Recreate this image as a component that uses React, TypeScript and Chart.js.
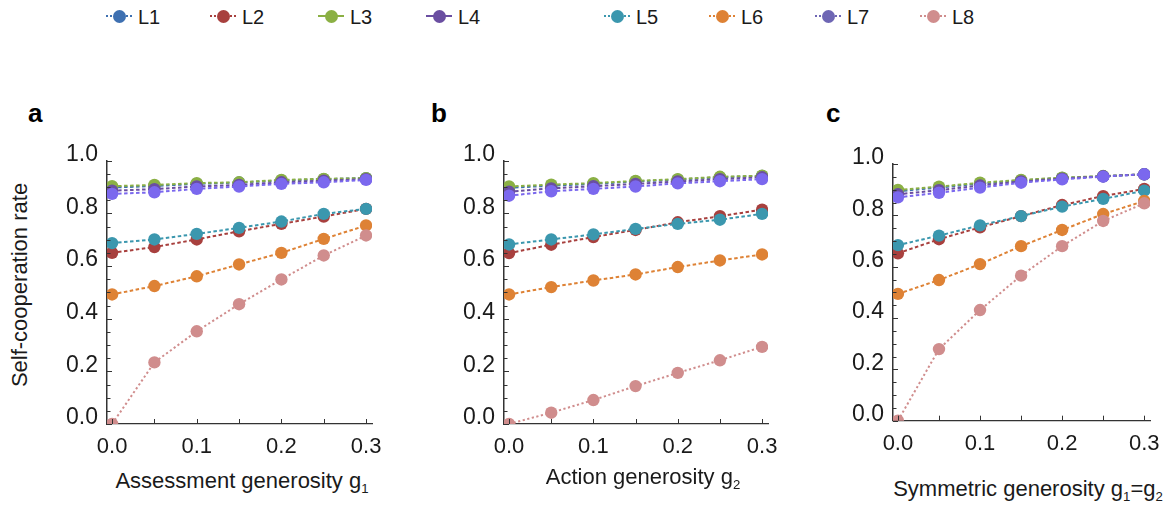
import React, { useEffect, useRef } from "react";
import { Chart, registerables } from "chart.js";

Chart.register(...registerables);

// ---------- data ----------
const seriesNames = ["L1", "L2", "L3", "L4", "L5", "L6", "L7", "L8"];
const gValues = [0, 0.05, 0.1, 0.15, 0.2, 0.25, 0.3];
const xTickValues = [0, 0.1, 0.2, 0.3];
const yTickValues = [0, 0.2, 0.4, 0.6, 0.8, 1.0];
const xMinorTickValues = [0, 0.05, 0.1, 0.15, 0.2, 0.25, 0.3];
const yMinorTickValues = [0, 0.05, 0.1, 0.15, 0.2, 0.25, 0.3, 0.35, 0.4, 0.45, 0.5, 0.55, 0.6, 0.65, 0.7, 0.75, 0.8, 0.85, 0.9, 0.95, 1.0];

// Panel a: assessment generosity g1
const aL1 = [0.898, 0.904, 0.912, 0.917, 0.925, 0.93, 0.934];
const aL2 = [0.65, 0.672, 0.701, 0.732, 0.76, 0.788, 0.817];
const aL3 = [0.903, 0.908, 0.915, 0.918, 0.927, 0.931, 0.934];
const aL4 = [0.886, 0.892, 0.902, 0.908, 0.918, 0.924, 0.93];
const aL5 = [0.687, 0.701, 0.722, 0.745, 0.769, 0.798, 0.817];
const aL6 = [0.492, 0.524, 0.561, 0.606, 0.65, 0.703, 0.754];
const aL7 = [0.874, 0.88, 0.893, 0.902, 0.912, 0.918, 0.927];
const aL8 = [0.0, 0.234, 0.352, 0.455, 0.549, 0.64, 0.716];

// Panel b: action generosity g2
const bL1 = [0.897, 0.905, 0.912, 0.921, 0.928, 0.937, 0.942];
const bL2 = [0.649, 0.681, 0.71, 0.737, 0.766, 0.789, 0.814];
const bL3 = [0.902, 0.909, 0.915, 0.923, 0.93, 0.939, 0.943];
const bL4 = [0.882, 0.895, 0.903, 0.912, 0.921, 0.93, 0.937];
const bL5 = [0.682, 0.701, 0.72, 0.741, 0.76, 0.776, 0.798];
const bL6 = [0.492, 0.52, 0.545, 0.568, 0.596, 0.621, 0.644];
const bL7 = [0.867, 0.884, 0.893, 0.902, 0.914, 0.922, 0.93];
const bL8 = [0.0, 0.043, 0.091, 0.144, 0.194, 0.242, 0.293];

// Panel c: symmetric generosity g1 = g2
const cL1 = [0.894, 0.908, 0.924, 0.936, 0.946, 0.952, 0.96];
const cL2 = [0.652, 0.707, 0.753, 0.797, 0.84, 0.875, 0.903];
const cL3 = [0.899, 0.912, 0.927, 0.938, 0.947, 0.953, 0.96];
const cL4 = [0.882, 0.898, 0.916, 0.932, 0.943, 0.952, 0.96];
const cL5 = [0.684, 0.721, 0.761, 0.797, 0.834, 0.864, 0.896];
const cL6 = [0.494, 0.548, 0.61, 0.68, 0.743, 0.805, 0.856];
const cL7 = [0.87, 0.888, 0.908, 0.927, 0.94, 0.951, 0.96];
const cL8 = [0.0, 0.279, 0.431, 0.565, 0.68, 0.778, 0.847];

const panelAData = [aL1, aL2, aL3, aL4, aL5, aL6, aL7, aL8];
const panelBData = [bL1, bL2, bL3, bL4, bL5, bL6, bL7, bL8];
const panelCData = [cL1, cL2, cL3, cL4, cL5, cL6, cL7, cL8];

// ---------- styles ----------
const plotColors = ["#3e70b1", "#a8403e", "#8bb044", "#6a4ea1", "#3b97ae", "#de8235", "#7b68ee", "#d08d8d"];
const legendColors = ["#3e70b1", "#a8403e", "#8bb044", "#6a4ea1", "#3b97ae", "#de8235", "#6e66b4", "#d08d8d"];
const legendSolid = [false, false, true, true, false, false, false, false];
const legendX = [119, 223, 331, 439, 617, 722, 828, 933];

const FONT = '"Liberation Sans", Arial, Helvetica, sans-serif';
const AXIS_COLOR = "#333333";

const innerTicks = {
  id: "innerTicks",
  afterDraw(chart: any) {
    const { ctx, chartArea, scales } = chart;
    ctx.save();
    ctx.strokeStyle = AXIS_COLOR;
    ctx.lineWidth = 1;
    xMinorTickValues.forEach((v) => {
      const px = Math.round(scales.x.getPixelForValue(v)) + 0.5;
      ctx.beginPath();
      ctx.moveTo(px, chartArea.bottom);
      ctx.lineTo(px, chartArea.bottom - 5);
      ctx.stroke();
    });
    yMinorTickValues.forEach((v, i) => {
      const py = Math.round(scales.y.getPixelForValue(v)) + 0.5;
      const len = i % 4 === 0 ? 5 : 3.5;
      ctx.beginPath();
      ctx.moveTo(chartArea.left, py);
      ctx.lineTo(chartArea.left + len, py);
      ctx.stroke();
    });
    ctx.restore();
  },
};

type Box = { L: number; T: number; R: number; B: number };

const Y_AXIS_W = 75;
const CANVAS_TOP = 120;
const CANVAS_BOTTOM = 465;
const RIGHT_PAD = 20;

function Panel({ data, box }: { data: number[][]; box: Box }) {
  const ref = useRef<HTMLCanvasElement | null>(null);
  const width = box.R - box.L + Y_AXIS_W + RIGHT_PAD;
  const height = CANVAS_BOTTOM - CANVAS_TOP;

  useEffect(() => {
    if (!ref.current) return;
    const chart = new Chart(ref.current, {
      type: "line",
      data: {
        datasets: data.map((vals, i) => ({
          label: seriesNames[i],
          data: gValues.map((g, k) => ({ x: g, y: vals[k] })),
          borderColor: plotColors[i],
          backgroundColor: plotColors[i],
          pointBackgroundColor: plotColors[i],
          pointBorderColor: plotColors[i],
          pointBorderWidth: 0,
          pointRadius: 6.2,
          borderWidth: 2,
          borderDash: i === 7 ? [2.2, 2.5] : [3.5, 2.5],
          tension: 0,
          fill: false,
          order: 8 - i,
        })),
      },
      options: {
        responsive: false,
        animation: false,
        devicePixelRatio: 1,
        layout: { padding: { top: box.T - CANVAS_TOP, right: RIGHT_PAD, left: 0, bottom: 0 } },
        plugins: { legend: { display: false }, tooltip: { enabled: false } },
        scales: {
          x: {
            type: "linear",
            min: -0.006,
            max: 0.307,
            afterBuildTicks: (scale: any) => {
              scale.ticks = xTickValues.map((v) => ({ value: v }));
            },
            afterFit: (scale: any) => {
              scale.height = CANVAS_BOTTOM - box.B;
            },
            ticks: {
              autoSkip: false,
              maxRotation: 0,
              padding: 10,
              color: "#1a1a1a",
              font: { family: FONT, size: 22 },
              callback: (v: any) => Number(v).toFixed(1),
            },
            grid: { display: false, drawTicks: false },
            border: { display: true, color: AXIS_COLOR, width: 1.3 },
          },
          y: {
            type: "linear",
            min: 0,
            max: 1,
            afterBuildTicks: (scale: any) => {
              scale.ticks = yTickValues.map((v) => ({ value: v }));
            },
            afterFit: (scale: any) => {
              scale.width = Y_AXIS_W;
            },
            ticks: {
              autoSkip: false,
              padding: 9,
              labelOffset: -6,
              color: "#1a1a1a",
              font: { family: FONT, size: 23 },
              callback: (v: any) => Number(v).toFixed(1),
            },
            grid: { display: false, drawTicks: false },
            border: { display: true, color: AXIS_COLOR, width: 1.5 },
          },
        },
      } as any,
      plugins: [innerTicks],
    });
    return () => chart.destroy();
  }, [data, box]);

  return (
    <canvas
      ref={ref}
      width={width}
      height={height}
      style={{ position: "absolute", left: box.L - Y_AXIS_W, top: CANVAS_TOP, width, height }}
    />
  );
}

const boxA: Box = { L: 107, T: 160.7, R: 372, B: 424 };
const boxB: Box = { L: 504, T: 160.7, R: 768, B: 424 };
const boxC: Box = { L: 893, T: 164, R: 1150, B: 420.7 };

function Text({ x, baseline, size, children, bold }: any) {
  return (
    <div
      style={{
        position: "absolute",
        left: x,
        top: baseline - size * 0.8465,
        transform: "translateX(-50%)",
        fontSize: size,
        lineHeight: 1,
        whiteSpace: "nowrap",
        fontWeight: bold ? "bold" : "normal",
        color: "#1a1a1a",
      }}
    >
      {children}
    </div>
  );
}

const subStyle: React.CSSProperties = { fontSize: "0.6em", verticalAlign: "-0.35em", lineHeight: 0 };

export default function App() {
  return (
    <div
      style={{
        position: "absolute",
        left: 0,
        top: 0,
        width: 1172,
        height: 508,
        background: "#ffffff",
        fontFamily: FONT,
        overflow: "hidden",
      }}
    >
      {/* legend */}
      {seriesNames.map((name, i) => (
        <div key={name}>
          <div
            style={{
              position: "absolute",
              left: legendX[i] - 13,
              top: 15,
              width: 26,
              height: 0,
              borderTop: `2px ${legendSolid[i] ? "solid" : "dotted"} ${legendColors[i]}`,
            }}
          />
          <div
            style={{
              position: "absolute",
              left: legendX[i] - 6.5,
              top: 9.5,
              width: 13,
              height: 13,
              borderRadius: "50%",
              background: legendColors[i],
            }}
          />
          <div
            style={{
              position: "absolute",
              left: legendX[i] + 19,
              top: 23.5 - 20 * 0.8465,
              fontSize: 20,
              lineHeight: 1,
              color: "#1a1a1a",
            }}
          >
            {name}
          </div>
        </div>
      ))}

      {/* panel letters */}
      <div style={{ position: "absolute", left: 28, top: 122 - 26 * 0.8465, fontSize: 26, lineHeight: 1, fontWeight: "bold" }}>a</div>
      <div style={{ position: "absolute", left: 431, top: 122 - 26 * 0.8465, fontSize: 26, lineHeight: 1, fontWeight: "bold" }}>b</div>
      <div style={{ position: "absolute", left: 826, top: 122 - 26 * 0.8465, fontSize: 26, lineHeight: 1, fontWeight: "bold" }}>c</div>

      {/* y-axis title */}
      <div
        style={{
          position: "absolute",
          left: 20,
          top: 285,
          transform: "translate(-50%, -50%) rotate(-90deg)",
          fontSize: 22,
          lineHeight: 1,
          whiteSpace: "nowrap",
          color: "#1a1a1a",
        }}
      >
        Self-cooperation rate
      </div>

      <Panel data={panelAData} box={boxA} />
      <Panel data={panelBData} box={boxB} />
      <Panel data={panelCData} box={boxC} />

      {/* x-axis titles */}
      <Text x={242} baseline={489} size={22}>
        Assessment generosity g<sub style={subStyle}>1</sub>
      </Text>
      <Text x={643} baseline={485} size={22}>
        Action generosity g<sub style={subStyle}>2</sub>
      </Text>
      <Text x={1028} baseline={497} size={22}>
        Symmetric generosity g<sub style={subStyle}>1</sub>=g<sub style={subStyle}>2</sub>
      </Text>
    </div>
  );
}
